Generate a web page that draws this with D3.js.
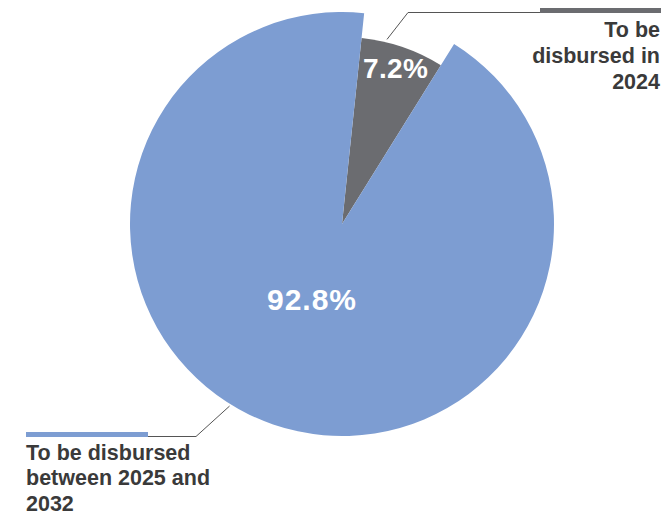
<!DOCTYPE html>
<html>
<head>
<meta charset="utf-8">
<script src="https://cdn.jsdelivr.net/npm/d3@7"></script>
<style>
  html, body { margin: 0; padding: 0; background: #fff; }
  svg { display: block; font-family: "Liberation Sans", Arial, Helvetica, sans-serif; }
</style>
</head>
<body>
<svg id="chart" width="661" height="516"></svg>
<script>
// Disbursement schedule shares (percent)
const categories = ["To be disbursed in 2024", "To be disbursed between 2025 and 2032"];
const shares = [7.2, 92.8];
const valueLabels = ["7.2%", "92.8%"];
const labelLines = [["To be", "disbursed in", "2024"], ["To be disbursed", "between 2025 and", "2032"]];
const colors = ["#6b6c70", "#7d9dd2"];

const svg = d3.select("#chart");
const cx = 342, cy = 224;
const radii = [187, 212];

const deg = Math.PI / 180;
const pie = d3.pie().sort(null).value(d => d).startAngle(6 * deg).endAngle(366 * deg);
const arcs = pie(shares);

const g = svg.append("g").attr("transform", `translate(${cx},${cy})`);

g.selectAll("path.slice")
  .data(arcs)
  .join("path")
  .attr("class", "slice")
  .attr("fill", (d, i) => colors[i])
  .attr("d", (d, i) => d3.arc().innerRadius(0).outerRadius(radii[i])(d));

// percentage labels inside slices
const labelR = [165, 80];
const labelShift = [0, -4];
g.selectAll("text.pct")
  .data(arcs)
  .join("text")
  .attr("class", "pct")
  .attr("transform", (d, i) => {
    const a = (d.startAngle + d.endAngle) / 2;
    return `translate(${labelR[i] * Math.sin(a) + labelShift[i]},${-labelR[i] * Math.cos(a)})`;
  })
  .attr("text-anchor", "middle")
  .attr("dy", "0.36em")
  .attr("fill", "#fff")
  .attr("font-weight", "bold")
  .attr("font-size", (d, i) => i === 0 ? 28 : 30)
  .attr("letter-spacing", (d, i) => i === 0 ? 0.3 : 1)
  .text((d, i) => valueLabels[i]);

// leader lines and callout labels
const pt = (a, r) => [cx + r * Math.sin(a * deg), cy - r * Math.cos(a * deg)];
const leaderColor = "#555";
const labelSize = 21.5;
const lineGap = 25.8;

// 2024 callout (top right)
{
  const p0 = pt(13.7, 190);
  const p1 = [408, 12.5];
  const p2 = [540, 12.5];
  svg.append("path")
    .attr("d", d3.line()([p0, p1, p2]))
    .attr("fill", "none").attr("stroke", leaderColor).attr("stroke-width", 1);
  svg.append("rect").attr("x", 540).attr("y", 8).attr("width", 121).attr("height", 5).attr("fill", colors[0]);
  const t = svg.append("text").attr("text-anchor", "end").attr("font-weight", "bold")
    .attr("font-size", labelSize).attr("fill", "#3a3a3a");
  labelLines[0].forEach((s, i) => t.append("tspan").attr("x", 660).attr("y", 36.5 + i * 26.3).text(s));
}

// 2025-2032 callout (bottom left)
{
  const p0 = pt(211.7, 214);
  const p1 = [196, 436.5];
  const p2 = [148, 436.5];
  svg.append("path")
    .attr("d", d3.line()([p0, p1, p2]))
    .attr("fill", "none").attr("stroke", leaderColor).attr("stroke-width", 1);
  svg.append("rect").attr("x", 26).attr("y", 432).attr("width", 122).attr("height", 5).attr("fill", colors[1]);
  const t = svg.append("text").attr("text-anchor", "start").attr("font-weight", "bold")
    .attr("font-size", labelSize).attr("fill", "#3a3a3a");
  labelLines[1].forEach((s, i) => t.append("tspan").attr("x", 26).attr("y", 459.5 + i * lineGap).text(s));
}
</script>
</body>
</html>
